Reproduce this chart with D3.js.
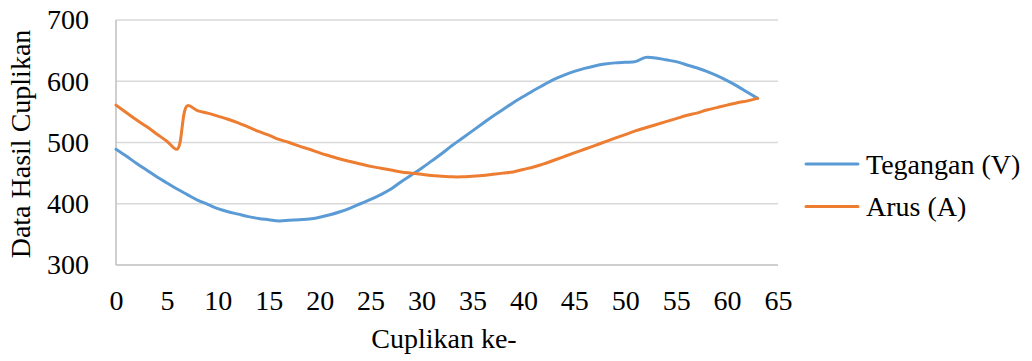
<!DOCTYPE html>
<html>
<head>
<meta charset="utf-8">
<script src="https://cdn.jsdelivr.net/npm/d3@7"></script>
<style>
  body { margin: 0; background: #fff; }
  svg text { font-family: "Liberation Serif", "Times New Roman", serif; fill: #000; }
</style>
</head>
<body>
<svg id="chart" width="1032" height="361"></svg>
<script>
// sample index 0..63
var tegangan = [489, 478, 466, 455, 444, 434, 424, 415, 406, 399, 392, 387, 383, 379, 376, 374,
                372, 373, 374, 375, 378, 382, 387, 393, 400, 407, 415, 424, 436, 447, 458, 470,
                482, 495, 507, 519, 531, 543, 554, 565, 575, 585, 594, 603, 610, 616, 621, 625,
                628, 630, 631, 632, 639, 638, 635, 632, 627, 622, 616, 609, 601, 592, 582, 572];
var arus = [561, 549, 537, 526, 514, 502, 489, 560, 552, 548, 543, 538, 532, 525, 518, 512,
            505, 500, 494, 489, 483, 478, 473, 469, 465, 461, 458, 455, 452, 450, 448, 446,
            445, 444, 444, 445, 446, 448, 450, 452, 456, 460, 465, 471, 477, 483, 489, 495,
            501, 507, 513, 519, 524, 529, 534, 539, 544, 548, 553, 557, 561, 565, 568, 572];
var xTicks = [0, 5, 10, 15, 20, 25, 30, 35, 40, 45, 50, 55, 60, 65];
var yTicks = [300, 400, 500, 600, 700];
var seriesNames = ["Tegangan (V)", "Arus (A)"];
var seriesColors = ["#5b9bd5", "#ed7d31"];

var svg = d3.select("#chart");
var x = d3.scaleLinear().domain([0, 65]).range([116, 778]);
var y = d3.scaleLinear().domain([300, 700]).range([265, 20]);
var fontSize = "28px";

// gridlines
svg.append("g").selectAll("line").data(yTicks.slice(1)).enter().append("line")
  .attr("x1", x(0)).attr("x2", x(65))
  .attr("y1", function (d) { return y(d); }).attr("y2", function (d) { return y(d); })
  .attr("stroke", "#d9d9d9").attr("stroke-width", 1.5);

// axis lines
svg.append("line").attr("x1", x(0)).attr("x2", x(65)).attr("y1", y(300)).attr("y2", y(300))
  .attr("stroke", "#bfbfbf").attr("stroke-width", 1.5);
svg.append("line").attr("x1", x(0)).attr("x2", x(0)).attr("y1", y(300)).attr("y2", y(700))
  .attr("stroke", "#bfbfbf").attr("stroke-width", 1.5);

// tick labels
var xAxis = d3.axisBottom(x).tickValues(xTicks).tickSize(0).tickPadding(25);
svg.append("g").attr("transform", "translate(0," + y(300) + ")").call(xAxis)
  .call(function (g) { g.select(".domain").remove(); })
  .selectAll("text").style("font-size", fontSize).style("font-family", "Liberation Serif");
var yAxis = d3.axisLeft(y).tickValues(yTicks).tickSize(0).tickPadding(27);
svg.append("g").attr("transform", "translate(" + x(0) + ",0)").call(yAxis)
  .call(function (g) { g.select(".domain").remove(); })
  .selectAll("text").style("font-size", fontSize).style("font-family", "Liberation Serif");

// lines
var line = d3.line()
  .x(function (d, i) { return x(i); })
  .y(function (d) { return y(d); })
  .curve(d3.curveCatmullRom.alpha(0.5));
[tegangan, arus].forEach(function (s, k) {
  svg.append("path").datum(s).attr("d", line)
    .attr("fill", "none").attr("stroke", seriesColors[k])
    .attr("stroke-width", 3).attr("stroke-linejoin", "round").attr("stroke-linecap", "round");
});

// axis titles
svg.append("text").attr("x", 444).attr("y", 348).attr("text-anchor", "middle")
  .style("font-size", fontSize).text("Cuplikan ke-");
svg.append("text").attr("transform", "translate(30,144) rotate(-90)").attr("text-anchor", "middle")
  .style("font-size", fontSize).text("Data Hasil Cuplikan");

// legend
var legend = svg.append("g").selectAll("g").data(seriesNames).enter().append("g")
  .attr("transform", function (d, i) { return "translate(806," + (164 + i * 42.5) + ")"; });
legend.append("line").attr("x1", 0).attr("x2", 52)
  .attr("stroke", function (d, i) { return seriesColors[i]; })
  .attr("stroke-width", 3).attr("stroke-linecap", "round");
legend.append("text").attr("x", 60).attr("y", 9.5).style("font-size", fontSize)
  .text(function (d) { return d; });
</script>
</body>
</html>
